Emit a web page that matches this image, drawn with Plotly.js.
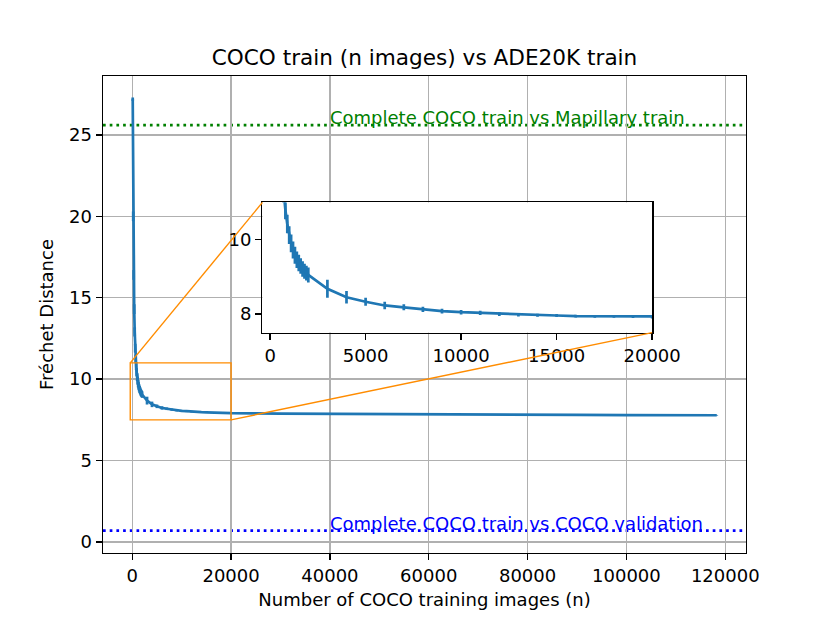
<!DOCTYPE html>
<html>
<head>
<meta charset="utf-8">
<title>COCO train vs ADE20K train</title>
<script src="https://cdn.plot.ly/plotly-3.0.1.min.js"></script>
<style>
  body { margin: 0; background: #fff; }
  #chart { width: 830px; height: 623px; }
</style>
</head>
<body>
<div id="chart"></div>
<script>
// ---- data ----
var nImages = [100, 200, 300, 400, 500, 600, 700, 800, 900, 1000,
               1100, 1200, 1300, 1400, 1500, 1600, 1700, 1800, 1900, 2000,
               3000, 4000, 5000, 6000, 7000, 8000, 9000, 10000, 11000, 12000,
               13000, 14000, 15000, 16000, 17000, 18000, 19000, 20000,
               30000, 40000, 50000, 60000, 70000, 80000, 90000, 100000, 110000, 118287];
var fid = [27.2, 20.0, 16.4, 14.3, 12.9, 11.9, 11.25, 10.8, 10.42, 10.12,
           9.9, 9.72, 9.58, 9.46, 9.37, 9.29, 9.21, 9.15, 9.1, 9.05,
           8.68, 8.45, 8.33, 8.23, 8.18, 8.125, 8.08, 8.05, 8.03, 8.0,
           7.98, 7.97, 7.96, 7.945, 7.935, 7.93, 7.92, 7.91,
           7.88, 7.86, 7.845, 7.83, 7.82, 7.81, 7.80, 7.795, 7.79, 7.78];
var fidStd = [0.1, 0.3, 0.3, 0.3, 0.28, 0.27, 0.26, 0.25, 0.25, 0.24,
              0.24, 0.23, 0.23, 0.22, 0.22, 0.21, 0.21, 0.2, 0.2, 0.2,
              0.24, 0.17, 0.11, 0.1, 0.08, 0.07, 0.065, 0.06, 0.055, 0.05,
              0.045, 0.04, 0.04, 0.035, 0.035, 0.03, 0.03, 0.03,
              0.02, 0.02, 0.02, 0.02, 0.02, 0.02, 0.02, 0.02, 0.02, 0.02];

var refMapillary = 25.6;   // complete COCO train vs Mapillary train
var refCocoVal = 0.7;      // complete COCO train vs COCO validation
var refLabels = ["Complete COCO train vs Mapillary train", "Complete COCO train vs COCO validation"];
var labelX = 40000;

var xTicks = [0, 20000, 40000, 60000, 80000, 100000, 120000];
var yTicks = [0, 5, 10, 15, 20, 25];
var insetXTicks = [0, 5000, 10000, 15000, 20000];
var insetYTicks = [8, 10];

// zoom window shown in the inset
var zoomX = [-400, 20000];
var zoomY = [7.5, 11];

// ---- layout numbers ----
var blue = "#1f77b4";
var orange = "darkorange";
var xRange = [-5914, 124201];
var yRange = [-0.68, 28.62];
var insetDomX = [0.248, 0.854];
var insetDomY = [0.462, 0.735];
var font = "DejaVu Sans, Arial, sans-serif";

function px(v) { return (v - xRange[0]) / (xRange[1] - xRange[0]); }
function py(v) { return (v - yRange[0]) / (yRange[1] - yRange[0]); }

var errStyle = { type: "data", array: fidStd, visible: true, color: blue, thickness: 2.7, width: 0 };

var traces = [
  { x: nImages, y: fid, type: "scatter", mode: "lines", xaxis: "x", yaxis: "y",
    line: { color: blue, width: 2.7 }, error_y: errStyle, hoverinfo: "none" },
  { x: nImages, y: fid, type: "scatter", mode: "lines", xaxis: "x2", yaxis: "y2",
    line: { color: blue, width: 2.7 }, error_y: errStyle, hoverinfo: "none" }
];

var axCommon = {
  showline: true, mirror: true, linecolor: "black", linewidth: 1.4,
  ticks: "outside", ticklen: 6, tickwidth: 1.4, tickcolor: "black",
  zeroline: false, tickfont: { size: 18, color: "black" }, tickformat: "d"
};

var layout = {
  width: 830, height: 623,
  margin: { l: 103, r: 84, t: 76, b: 70 },
  paper_bgcolor: "white", plot_bgcolor: "white",
  font: { family: font, size: 18, color: "black" },
  showlegend: false,
  title: { text: "COCO train (n images) vs ADE20K train", font: { size: 21.6 },
           xref: "paper", x: 0.5, xanchor: "center", yref: "container", y: 1 - 57 / 623, yanchor: "middle" },
  xaxis: Object.assign({}, axCommon, {
    domain: [0, 1], range: xRange, tickvals: xTicks, autorange: false,
    showgrid: true, gridcolor: "#b0b0b0", gridwidth: 1.4,
    title: { text: "Number of COCO training images (n)", font: { size: 18 }, standoff: 8 }
  }),
  yaxis: Object.assign({}, axCommon, {
    domain: [0, 1], range: yRange, tickvals: yTicks, autorange: false,
    showgrid: true, gridcolor: "#b0b0b0", gridwidth: 1.4,
    title: { text: "Fréchet Distance", font: { size: 18 }, standoff: 10 }
  }),
  xaxis2: Object.assign({}, axCommon, {
    domain: insetDomX, anchor: "y2", range: zoomX, tickvals: insetXTicks, showgrid: false
  }),
  yaxis2: Object.assign({}, axCommon, {
    domain: insetDomY, anchor: "x2", range: zoomY, tickvals: insetYTicks, showgrid: false
  }),
  shapes: [
    { type: "line", xref: "paper", yref: "y", x0: 0, x1: 1, y0: refMapillary, y1: refMapillary,
      line: { color: "green", width: 2.7, dash: "2.7px,4px" }, layer: "below" },
    { type: "line", xref: "paper", yref: "y", x0: 0, x1: 1, y0: refCocoVal, y1: refCocoVal,
      line: { color: "blue", width: 2.7, dash: "2.7px,4px" }, layer: "below" },
    { type: "rect", xref: "x", yref: "y", x0: zoomX[0], x1: zoomX[1], y0: zoomY[0], y1: zoomY[1],
      line: { color: orange, width: 1.4 }, fillcolor: "rgba(0,0,0,0)" },
    { type: "line", xref: "paper", yref: "paper",
      x0: px(zoomX[0]), y0: py(zoomY[1]), x1: insetDomX[0], y1: insetDomY[1],
      line: { color: orange, width: 1.4 } },
    { type: "line", xref: "paper", yref: "paper",
      x0: px(zoomX[1]), y0: py(zoomY[0]), x1: insetDomX[1], y1: insetDomY[0],
      line: { color: orange, width: 1.4 } }
  ],
  annotations: [
    { x: labelX, y: refMapillary, xref: "x", yref: "y", text: refLabels[0], showarrow: false,
      xanchor: "left", yanchor: "bottom", xshift: -2, yshift: -5, font: { size: 18, color: "green" } },
    { x: labelX, y: refCocoVal, xref: "x", yref: "y", text: refLabels[1], showarrow: false,
      xanchor: "left", yanchor: "bottom", xshift: -2, yshift: -5, font: { size: 18, color: "blue" } }
  ]
};

Plotly.newPlot("chart", traces, layout, { staticPlot: true, displayModeBar: false });
</script>
</body>
</html>
